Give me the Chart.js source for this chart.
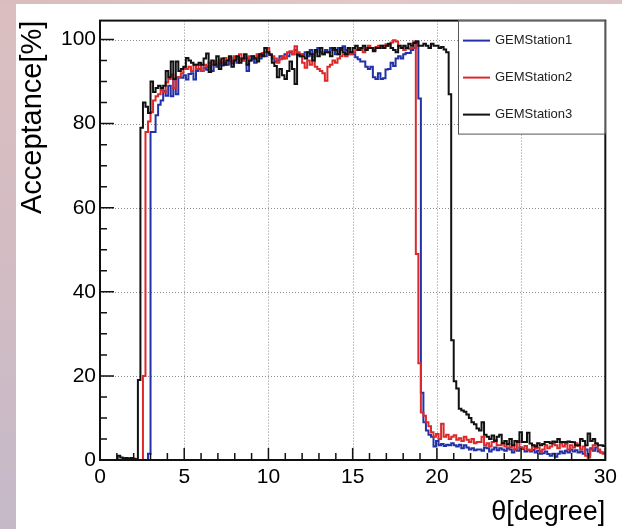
<!DOCTYPE html>
<html>
<head>
<meta charset="utf-8">
<script src="https://cdn.jsdelivr.net/npm/chart.js@4"></script>
<style>
  html, body { margin: 0; padding: 0; }
  body {
    width: 622px; height: 529px; position: relative; overflow: hidden;
    background: linear-gradient(180deg, #dbbfc0 0%, #d2bcc3 50%, #c5b9c9 100%);
  }
  .top-strip {
    position: absolute; left: 0; top: 0; width: 622px; height: 4px;
    background: linear-gradient(90deg, #d9bcbd, #e2c8c7 60%, #dcc5c7);
  }
  #panel { position: absolute; left: 16px; top: 4px; width: 606px; height: 525px; background: #fff; }
</style>
</head>
<body>
<div class="top-strip"></div>
<div id="panel"><canvas id="acc" width="606" height="525"></canvas></div>
<script>
// ── Axis / binning ─────────────────────────────────────────────────────────
const THETA_MIN = 0, THETA_MAX = 30, N_BINS = 200;
const BIN_W = (THETA_MAX - THETA_MIN) / N_BINS;   // 0.15 degree
const Y_MAX = 104.5;
const X_MAJOR = 5, X_MINOR = 1;
const Y_MAJOR = 20, Y_MINOR = 5;
const xTickValues = [0, 5, 10, 15, 20, 25, 30];
const yTickValues = [0, 20, 40, 60, 80, 100];

const seriesLabels = ['GEMStation1', 'GEMStation2', 'GEMStation3'];
const seriesColors = ['#2232a6', '#dc2a2c', '#111111'];

// bin contents, acceptance in %, 10 bins (1.5 degree) per row
const gemStation1 = [
  0,0,0,0,0,0,0,0,0,0,
  0,0,0,0,0,0,0,0,0,1.5,
  78,78,82,84.5,85.5,87.8,86.6,89,86.5,90.5,
  87,91,90.9,91.5,90.5,91.8,92,90.5,92.5,93,
  92.5,93.3,92.8,93.5,92.5,94,93.5,94.5,93.8,94.5,
  94,95,94.3,95.5,94.5,95.5,95,95.6,92.5,95,
  95.5,94.5,96,95.5,96.5,96,97,96.5,95.5,94.8,
  95,96,95.5,96.5,96,97,96.5,97.5,96.5,96,
  96.5,97,96,97.5,96.5,97,98,97,96.5,97.5,
  97,98,97.5,96.5,98,97.5,98.4,97.5,96.5,97,
  96.5,95.8,95.3,94.8,94.8,93.5,93,93.5,91,90.6,
  92,90.6,90.8,92.9,93,94.5,93.7,95.5,96,95.5,
  96.5,96.8,96.8,97.5,98,99.5,86,16,9,7,
  6,5.5,3.2,4.5,3.5,3.8,3.3,3.6,3.5,4,
  3.5,3.2,3.6,2.8,3.5,3,2.5,2.8,2.3,2.5,
  2.5,2.2,3,2.8,2,2.5,3,2.3,2.8,2.5,
  2.2,2.8,2.5,1.8,2.5,2.2,3,2.6,2,2.4,
  2,2.4,1.8,2.2,1.5,1.6,2,1.4,1,1.5,
  0.8,1.5,2,1.6,2.2,1.8,2.5,2,2.3,1.8,
  2,1.5,2.5,1.2,2.8,2.2,3,2,1.8,1.6,
];

const gemStation2 = [
  0,0,0,0,0,0,0,0,0,0,
  0,0,0,0,0,0,0,20,78,80.5,
  82.7,85.5,86.5,87,88,87.5,89.8,90.6,91.7,88.5,
  91,91,92,93.3,93,93.5,92.5,94,93,94,
  92.5,94,93.5,94.5,94,94.8,94,95,94.5,95.6,
  95,95.6,94.8,96,95.5,96.5,95,96,95.5,96,
  96,95.6,96.5,96,96.8,97,98,96.4,96,95.5,
  94.5,95.3,96,95.5,97,97.2,96.5,98.4,97,96.5,
  94.5,93.3,95,94,96,93.5,93,92.5,92,90.2,
  93.5,94,95,94.5,95.5,96,96.5,96,97,96.5,
  96.8,97.5,98,97.5,97,98,98.5,98,97.5,98.2,
  98.5,98,98.5,98.9,98.5,99.3,99.8,99.5,98.5,98,
  97.5,98,97.8,98,99.5,49,23,11.3,10.5,9,
  8,6.6,5.5,6.2,5,8.6,5.5,6,5,5.5,
  5.9,4.8,5.2,4.5,5.5,4.8,4.3,5,4,4.3,
  4.3,5.5,3.5,4,3.2,4.3,4.7,3.5,3.5,4,
  3.2,3.8,3,3.5,2.5,4.5,3,2.8,3.3,2.5,
  2.3,3.5,2.8,3,2,2.5,3.5,2.8,3.2,3.8,
  3.5,2.8,4,3.2,3.8,2.5,3.5,3,4,3.3,
  2.5,3.2,1,0.6,2.5,3.5,3.8,2.5,1.8,1.5,
];

const gemStation3 = [
  0,0,0,0,0,0,0,1.0,0.6,0.4,
  0.5,0.3,0.5,0.3,0.2,19,79,85,84,82.5,
  90,87.5,88.5,89,88.5,89,92.5,91,94.8,90.6,
  94.8,92.5,93,93.5,95.6,95,94.5,94,94,94.5,
  94,95.5,96.7,92.3,95,94,96,93,95.5,94,
  95,96,93.5,95,96,94.5,95.5,96.5,94,95,
  96,95.5,94.8,96.5,96,98,97,96.4,94.5,93.7,
  91,93,91.5,90.6,92.5,94.8,93,89.4,96.4,96,
  96,95.5,97,96.5,95,97.5,96,98,96.5,97,
  97,96,98,97.5,96.5,98,97,96.5,98,97,
  98,98.5,97.5,98,98.5,97.5,98,98,97.2,98,
  98,98.5,98,98.5,99,98,97.5,97,98.5,98,
  98.5,98,99,98.5,99.2,99.5,98.5,98.5,99,98.5,
  98,99,98.5,98.5,98,98.2,97.6,97,87,28.5,
  18.7,17,12.2,11.8,11.5,10.8,10,9,8.5,7.5,
  7,9,6,5.5,5,5.8,4.5,5.5,6,4,
  4.5,3.8,5,3.5,4.5,4.3,6.6,4.3,4.3,6.5,
  3.9,3.5,3.2,4,3.5,3.8,4.3,4.3,4,4.4,
  4.3,5,4.3,4.3,4.2,4.4,4.3,4.2,3.5,3.5,
  5,4.5,3.5,6.3,4.5,5,4,3.5,3.5,3.3,
];

const FONT = "'Liberation Sans', Arial, Helvetica, sans-serif";

// bin low edges + closing point at the upper edge → stepped outline like ROOT "HIST"
function histPoints(values) {
  const pts = values.map((v, i) => ({ x: THETA_MIN + i * BIN_W, y: v }));
  pts.push({ x: THETA_MAX, y: values[values.length - 1] });
  return pts;
}

// ── Frame, dotted grid, inward ticks, legend box ───────────────────────────
const rootFrame = {
  id: 'rootFrame',
  beforeDatasetsDraw(chart) {
    const { ctx, chartArea: a, scales: { x, y } } = chart;
    ctx.save();
    ctx.strokeStyle = '#8c8c8c';
    ctx.lineWidth = 1;
    ctx.setLineDash([1, 2]);
    ctx.beginPath();
    xTickValues.slice(1, -1).forEach(v => {
      const px = Math.round(x.getPixelForValue(v)) + 0.5;
      ctx.moveTo(px, a.top); ctx.lineTo(px, a.bottom);
    });
    yTickValues.slice(1).forEach(v => {
      const py = Math.round(y.getPixelForValue(v)) + 0.5;
      ctx.moveTo(a.left, py); ctx.lineTo(a.right, py);
    });
    ctx.stroke();
    ctx.restore();
  },
  afterDatasetsDraw(chart) {
    const { ctx, chartArea: a, scales: { x, y } } = chart;
    ctx.save();
    ctx.strokeStyle = '#111';
    ctx.lineWidth = 1.5;
    ctx.beginPath();
    for (let v = THETA_MIN; v <= THETA_MAX; v += X_MINOR) {
      const px = x.getPixelForValue(v);
      const len = v % X_MAJOR === 0 ? 12 : 7;
      ctx.moveTo(px, a.bottom); ctx.lineTo(px, a.bottom - len);
    }
    for (let v = 0; v <= 100; v += Y_MINOR) {
      const py = y.getPixelForValue(v);
      const len = v % Y_MAJOR === 0 ? 14 : 7;
      ctx.moveTo(a.left, py); ctx.lineTo(a.left + len, py);
    }
    ctx.stroke();

    // frame
    ctx.lineWidth = 2;
    ctx.strokeRect(a.left, a.top, a.right - a.left, a.bottom - a.top);

    // legend (top right, ROOT TLegend style)
    const lx = 442, ly = a.top, lw = a.right - lx, lh = 113;
    ctx.fillStyle = '#fff';
    ctx.fillRect(lx, ly, lw, lh);
    ctx.strokeStyle = '#555';
    ctx.lineWidth = 1;
    ctx.strokeRect(lx + 0.5, ly + 0.5, lw - 1, lh);
    ctx.font = `13px ${FONT}`;
    ctx.textBaseline = 'middle';
    chart.data.datasets.forEach((ds, i) => {
      const cy = ly + 20 + i * 37;
      ctx.strokeStyle = ds.borderColor;
      ctx.lineWidth = 2;
      ctx.beginPath();
      ctx.moveTo(lx + 5, cy); ctx.lineTo(lx + 32, cy);
      ctx.stroke();
      ctx.fillStyle = '#222';
      ctx.fillText(ds.label, lx + 37, cy);
    });
    ctx.restore();
  }
};

const allSeries = [gemStation1, gemStation2, gemStation3];

new Chart(document.getElementById('acc'), {
  type: 'line',
  data: {
    datasets: allSeries.map((vals, i) => ({
      label: seriesLabels[i],
      data: histPoints(vals),
      borderColor: seriesColors[i],
      backgroundColor: 'transparent',
      borderWidth: 2,
      pointRadius: 0,
      stepped: true,
      tension: 0,
      fill: false,
      order: allSeries.length - i,   // station3 drawn last (on top)
    }))
  },
  options: {
    responsive: false,
    animation: false,
    events: [],
    layout: { padding: { left: 0, top: 11, right: 15, bottom: 0 } },
    plugins: { legend: { display: false }, tooltip: { enabled: false } },
    scales: {
      x: {
        type: 'linear', min: THETA_MIN, max: THETA_MAX,
        grid: { display: false, drawTicks: false },
        border: { display: false },
        ticks: { padding: 5, color: '#000', maxRotation: 0, autoSkip: false,
                 font: { family: FONT, size: 21 } },
        afterBuildTicks: s => { s.ticks = xTickValues.map(v => ({ value: v })); },
        title: { display: true, text: 'θ[degree]', align: 'end', color: '#000',
                 font: { family: FONT, size: 27, lineHeight: 1 }, padding: { top: 0, bottom: 3 } },
        afterFit: s => { s.height = 69; }
      },
      y: {
        type: 'linear', min: 0, max: Y_MAX,
        grid: { display: false, drawTicks: false },
        border: { display: false },
        ticks: { padding: 4, color: '#000', autoSkip: false, font: { family: FONT, size: 21 } },
        afterBuildTicks: s => { s.ticks = yTickValues.map(v => ({ value: v })); },
        title: { display: true, text: 'Acceptance[%]', align: 'end', color: '#000',
                 font: { family: FONT, size: 29, lineHeight: 1 }, padding: { top: 2, bottom: 0 } },
        afterFit: s => { s.width = 84; }
      }
    }
  },
  plugins: [rootFrame]
});
</script>
</body>
</html>
